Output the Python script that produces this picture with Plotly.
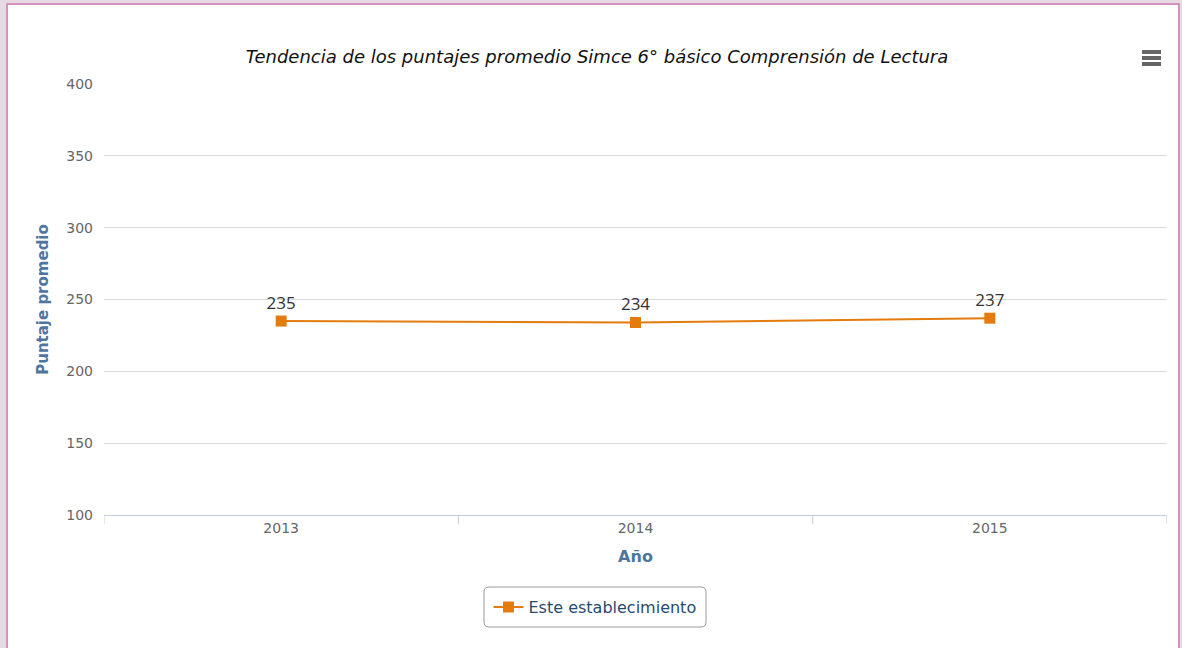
import plotly.graph_objects as go

years = ["2013", "2014", "2015"]
scores = [235, 234, 237]
y_ticks = [100, 150, 200, 250, 300, 350, 400]
series_name = "Este establecimiento"
title_text = "Tendencia de los puntajes promedio Simce 6° básico Comprensión de Lectura"

W, H = 1182, 648
L, R, T, B = 104, 15, 84, 133
pw, ph = W - L - R, H - T - B

def px(x):
    return (x - L) / pw

def py(y):
    return (H - B - y) / ph

orange = "#e37b0d"
font = "DejaVu Sans, Open Sans, sans-serif"

fig = go.Figure()
fig.add_trace(go.Scatter(
    x=list(range(len(years))), y=scores, mode="lines+markers+text",
    name=series_name,
    line=dict(color=orange, width=2),
    marker=dict(symbol="square", size=11, color=orange),
    text=[str(v) for v in scores], textposition="top center",
    textfont=dict(size=17, color="#333333", family="Open Sans, sans-serif"),
    cliponaxis=False,
))

shapes = []
# outer frame
shapes.append(dict(type="rect", xref="paper", yref="paper",
                   x0=px(0), x1=px(6), y0=py(700), y1=py(0),
                   fillcolor="#e6dbe3", line=dict(width=0), layer="below"))
shapes.append(dict(type="rect", xref="paper", yref="paper",
                   x0=px(1180), x1=px(1182), y0=py(700), y1=py(0),
                   fillcolor="#e6dbe3", line=dict(width=0), layer="below"))
shapes.append(dict(type="rect", xref="paper", yref="paper",
                   x0=px(0), x1=px(1182), y0=py(3), y1=py(0),
                   fillcolor="#e6dbe3", line=dict(width=0), layer="below"))
shapes.append(dict(type="rect", xref="paper", yref="paper",
                   x0=px(7), x1=px(1179), y0=py(700), y1=py(4),
                   fillcolor="#ffffff", line=dict(color="#c96fa9", width=1.5), layer="below"))
# x-axis ticks at category boundaries
for b in [-0.5, 0.5, 1.5, 2.5]:
    shapes.append(dict(type="line", xref="x", yref="paper", x0=b, x1=b,
                       y0=0, y1=py(515 + 9), line=dict(color="#c0d0e0", width=1)))
# hamburger menu
for yy in [52, 58, 64]:
    shapes.append(dict(type="line", xref="paper", yref="paper",
                       x0=px(1142), x1=px(1161), y0=py(yy), y1=py(yy),
                       line=dict(color="#666666", width=4)))
# legend rounded box
x0, x1, y0, y1, r = px(484), px(706), py(627), py(587), 5
rx, ry = r / pw, r / ph
path = (f"M {x0+rx},{y1} L {x1-rx},{y1} Q {x1},{y1} {x1},{y1-ry} "
        f"L {x1},{y0+ry} Q {x1},{y0} {x1-rx},{y0} L {x0+rx},{y0} "
        f"Q {x0},{y0} {x0},{y0+ry} L {x0},{y1-ry} Q {x0},{y1} {x0+rx},{y1} Z")
shapes.append(dict(type="path", xref="paper", yref="paper", path=path,
                   line=dict(color="#999999", width=1), fillcolor="rgba(0,0,0,0)"))

fig.update_layout(
    width=W, height=H,
    margin=dict(l=L, r=R, t=T, b=B, autoexpand=False),
    paper_bgcolor="white", plot_bgcolor="white",
    font=dict(family=font),
    title=dict(text=f"<i>{title_text}</i>", x=px(597), xref="paper", xanchor="center",
               y=1 - 57 / H, yanchor="middle",
               font=dict(size=18, color="#111111", family=font)),
    xaxis=dict(
        range=[-0.5, 2.5], tickmode="array", tickvals=list(range(len(years))),
        ticktext=years, showgrid=False, zeroline=False,
        showline=True, linecolor="#c0d0e0", linewidth=1, ticks="",
        tickfont=dict(size=14, color="#666666"),
        title=dict(text="<b>Año</b>", font=dict(size=16, color="#4d759e"), standoff=16),
    ),
    yaxis=dict(
        range=[100, 400], tickvals=y_ticks, showgrid=True, gridcolor="#d8d8d8",
        gridwidth=1, zeroline=False, showline=False, ticks="",
        tickfont=dict(size=14, color="#666666"), ticklabelstandoff=10,
        title=dict(text="<b>Puntaje promedio</b>", font=dict(size=15, color="#4d759e"), standoff=14),
    ),
    showlegend=True,
    legend=dict(orientation="h", x=px(595), xanchor="center", y=py(607), yanchor="middle",
                font=dict(size=16, color="#274b6d"), bgcolor="rgba(0,0,0,0)",
                borderwidth=0, itemwidth=30),
    shapes=shapes,
)

fig.write_html("out.html", config={"displayModeBar": False},
               post_script="document.body.style.margin='0';document.body.style.padding='0';")
